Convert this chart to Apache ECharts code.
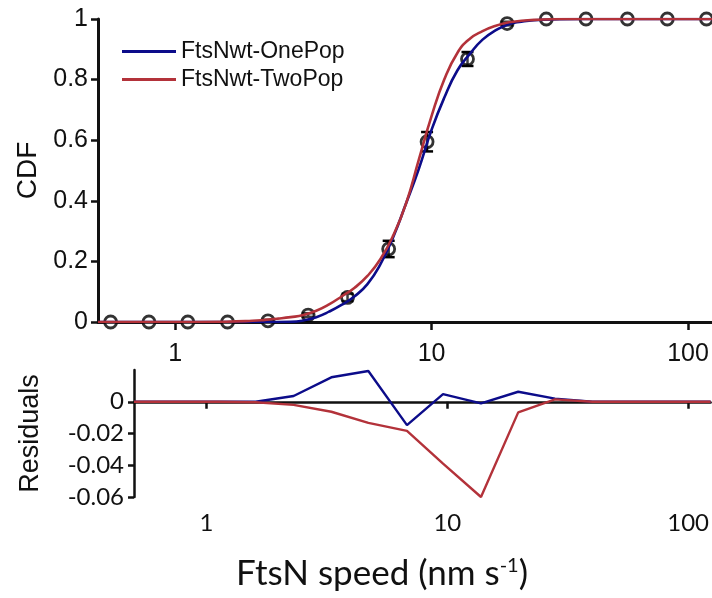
<!DOCTYPE html>
<html>
<head>
<meta charset="utf-8">
<script src="https://cdn.jsdelivr.net/npm/echarts@6/dist/echarts.min.js"></script>
<style>
  html, body { margin: 0; padding: 0; background: #fff; }
  #chart { width: 712px; height: 598px; }
</style>
</head>
<body>
<div id="chart"></div>
<script>
// measured speeds (nm/s) and their CDF with error bars
const speeds = [0.56, 0.79, 1.12, 1.6, 2.3, 3.3, 4.7, 6.8, 9.6, 13.8, 19.7, 28, 40, 58, 83, 118];
const cdfValues = [0, 0, 0, 0, 0.004, 0.023, 0.081, 0.241, 0.595, 0.868, 0.985, 1, 1, 1, 1, 1];
const cdfErrors = [0, 0, 0, 0, 0.003, 0.006, 0.012, 0.027, 0.032, 0.023, 0.006, 0, 0, 0, 0, 0];

// fitted curves
const curveX = [0.5, 1, 1.58, 2, 2.24, 2.51, 2.82, 3.16, 3.55, 3.98, 4.47, 5.01, 5.62, 6.31, 7.08, 7.94, 8.91, 10, 11.2, 12.6, 14.1, 15.8, 17.8, 20, 22.4, 25.1, 31.6, 39.8, 63, 124];
const onePopCurve = [0, 0, 0, 0, 0, 0, 0.0005, 0.005, 0.016, 0.034, 0.057, 0.085, 0.125, 0.19, 0.28, 0.39, 0.505, 0.635, 0.74, 0.83, 0.885, 0.932, 0.963, 0.983, 0.991, 0.996, 0.999, 1, 1, 1];
const twoPopCurve = [0, 0, 0.001, 0.004, 0.007, 0.011, 0.016, 0.023, 0.037, 0.058, 0.085, 0.113, 0.152, 0.207, 0.285, 0.39, 0.535, 0.68, 0.8, 0.888, 0.935, 0.96, 0.978, 0.989, 0.994, 0.997, 1, 1, 1, 1];

// residuals
const residX = [0.5, 0.79, 1.12, 1.6, 2.3, 3.3, 4.7, 6.8, 9.6, 13.8, 19.7, 28, 40, 58, 83, 124];
const onePopResid = [0, 0, 0, 0, 0.0036, 0.0154, 0.0194, -0.0147, 0.0048, -0.001, 0.0063, 0.002, 0, 0, 0, 0];
const twoPopResid = [0, 0, 0, -0.0003, -0.002, -0.0063, -0.0133, -0.0183, -0.039, -0.06, -0.0067, 0.0015, 0, 0, 0, 0];

const xTicks = [1, 10, 100];
const residTicks = [-0.06, -0.04, -0.02, 0];

const BLUE = '#0c0c8a';
const RED = '#b3323a';
const ARIAL = "'Liberation Sans', Arial, sans-serif";
const CALIBRI = 'Lato, sans-serif';

const zip = (xs, ys) => xs.map((x, i) => [x, ys[i]]);

var myChart = echarts.init(document.getElementById('chart'), null, { renderer: 'canvas' });

var option = {
  backgroundColor: '#ffffff',
  animation: false,
  legend: {
    data: ['FtsNwt-OnePop', 'FtsNwt-TwoPop'],
    orient: 'vertical',
    left: 117,
    top: 35,
    icon: 'rect',
    itemWidth: 54,
    itemHeight: 3,
    itemGap: 5,
    textStyle: { fontFamily: ARIAL, fontSize: 23, color: '#111' }
  },
  grid: [
    { left: 98, top: 19, right: 0, height: 303 },
    { left: 134, top: 370, right: 0, height: 127 }
  ],
  xAxis: [
    {
      gridIndex: 0, type: 'log', logBase: 10, min: 0.5, max: 124,
      axisLine: { lineStyle: { color: '#111', width: 3 } },
      axisTick: { customValues: xTicks, length: 8, lineStyle: { color: '#111', width: 2.5 } },
      axisLabel: { customValues: xTicks, margin: 20, fontFamily: ARIAL, fontSize: 25, color: '#111' },
      splitLine: { show: false },
      minorTick: { show: false }
    },
    {
      gridIndex: 1, type: 'log', logBase: 10, min: 0.5, max: 124,
      axisLine: { lineStyle: { color: '#111', width: 2.5 } },
      axisTick: { customValues: xTicks, length: 7, lineStyle: { color: '#111', width: 2.5 } },
      axisLabel: { customValues: xTicks, margin: 14, fontFamily: CALIBRI, fontSize: 24, color: '#111' },
      splitLine: { show: false }
    }
  ],
  yAxis: [
    {
      gridIndex: 0, type: 'value', min: 0, max: 1, interval: 0.2,
      name: 'CDF', nameLocation: 'middle', nameGap: 50,
      nameTextStyle: { fontFamily: ARIAL, fontSize: 28, color: '#111' },
      axisLine: { show: true, lineStyle: { color: '#111', width: 3 } },
      axisTick: { show: true, length: 7, lineStyle: { color: '#111', width: 2.5 } },
      axisLabel: { margin: 10, fontFamily: ARIAL, fontSize: 25, color: '#111' },
      splitLine: { show: false }
    },
    {
      gridIndex: 1, type: 'value', min: -0.06, max: 0.02, interval: 0.02,
      name: 'Residuals', nameLocation: 'middle', nameGap: 90,
      nameTextStyle: { fontFamily: ARIAL, fontSize: 27, color: '#111' },
      axisLine: { show: true, lineStyle: { color: '#111', width: 2.5 } },
      axisTick: { show: true, customValues: residTicks, length: 6, lineStyle: { color: '#111', width: 2.5 } },
      axisLabel: {
        customValues: residTicks, margin: 10, fontFamily: CALIBRI, fontSize: 24, color: '#111',
        formatter: v => (Math.abs(v) < 1e-9 ? '0' : v.toFixed(2))
      },
      splitLine: { show: false }
    }
  ],
  graphic: [
    {
      type: 'text',
      left: 236,
      top: 556,
      style: {
        text: 'FtsN speed (nm s{sup|-1})',
        font: '35px ' + CALIBRI,
        fill: '#111',
        rich: {
          sup: { fontFamily: CALIBRI, fontSize: 20, fill: '#111', verticalAlign: 'top', padding: [0, 0, 14, 0] }
        }
      }
    }
  ],
  series: [
    {
      name: 'errorbars',
      type: 'custom',
      xAxisIndex: 0, yAxisIndex: 0,
      data: speeds.map((x, i) => [x, cdfValues[i], cdfErrors[i]]),
      renderItem: function (params, api) {
        const e = api.value(2);
        if (!e) return null;
        const x = api.value(0), y = api.value(1);
        const lo = api.coord([x, y - e]);
        const hi = api.coord([x, y + e]);
        const w = 6;
        const st = { stroke: '#000', lineWidth: 2.5 };
        return {
          type: 'group',
          children: [
            { type: 'line', shape: { x1: lo[0], y1: lo[1], x2: hi[0], y2: hi[1] }, style: st },
            { type: 'line', shape: { x1: lo[0] - w, y1: lo[1], x2: lo[0] + w, y2: lo[1] }, style: st },
            { type: 'line', shape: { x1: hi[0] - w, y1: hi[1], x2: hi[0] + w, y2: hi[1] }, style: st }
          ]
        };
      },
      z: 3
    },
    {
      name: 'data',
      type: 'scatter',
      xAxisIndex: 0, yAxisIndex: 0,
      symbol: 'circle',
      symbolSize: 12,
      itemStyle: { color: 'rgba(255,255,255,0.3)', borderColor: '#000', borderWidth: 2.8 },
      data: zip(speeds, cdfValues),
      z: 4
    },
    {
      name: 'FtsNwt-OnePop',
      type: 'line',
      xAxisIndex: 0, yAxisIndex: 0,
      data: zip(curveX, onePopCurve),
      smooth: 0.5,
      showSymbol: false,
      lineStyle: { color: BLUE, width: 2.6 },
      itemStyle: { color: BLUE },
      z: 5
    },
    {
      name: 'FtsNwt-TwoPop',
      type: 'line',
      xAxisIndex: 0, yAxisIndex: 0,
      data: zip(curveX, twoPopCurve),
      smooth: 0.5,
      showSymbol: false,
      lineStyle: { color: RED, width: 2.6 },
      itemStyle: { color: RED },
      z: 6
    },
    {
      name: 'resid-one',
      type: 'line',
      xAxisIndex: 1, yAxisIndex: 1,
      data: zip(residX, onePopResid),
      showSymbol: false,
      lineStyle: { color: BLUE, width: 2.4 },
      itemStyle: { color: BLUE }
    },
    {
      name: 'resid-two',
      type: 'line',
      xAxisIndex: 1, yAxisIndex: 1,
      data: zip(residX, twoPopResid),
      showSymbol: false,
      lineStyle: { color: RED, width: 2.4 },
      itemStyle: { color: RED }
    }
  ]
};

myChart.setOption(option);
</script>
</body>
</html>
